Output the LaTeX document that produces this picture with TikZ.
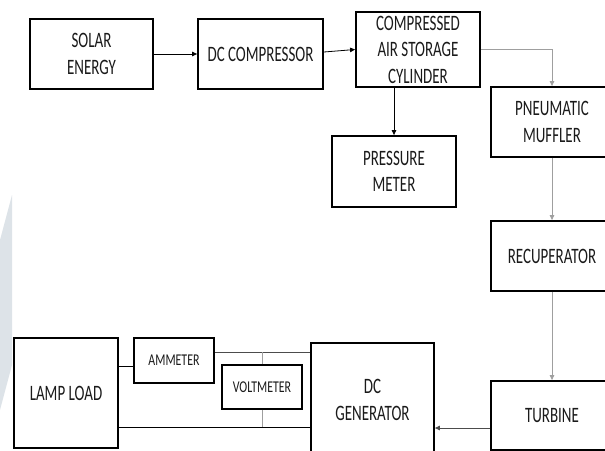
\documentclass[tikz,border=0pt]{standalone}
\usepackage{fontspec}
\setmainfont{Carlito}
\newfontfamily\lblfont[FakeStretch=0.68]{Carlito}
\newfontfamily\smlfont[FakeStretch=0.72]{Carlito}
\usetikzlibrary{arrows.meta}
\definecolor{wmark}{HTML}{DDE3E8}
\definecolor{txt}{HTML}{1A1A1A}
\begin{document}
\begin{tikzpicture}[x=1pt,y=-1pt,
  box/.style={draw=black, line width=1.8pt, align=center, inner sep=0pt, text=txt,
    font=\lblfont\fontsize{22}{26.5}\selectfont},
  smallbox/.style={box, font=\smlfont\fontsize{16.5}{19}\selectfont},
  tip/.style={-{Triangle[length=5pt,width=4.5pt]}},
  blk/.style={draw=black, line width=0.8pt},
  gry/.style={draw=gray!75, line width=0.8pt}]
\useasboundingbox (0,0) rectangle (605,450);
\clip (0,0) rectangle (605,450);
\fill[wmark] (0,240) -- (12,195) -- (12,365) -- (0,410) -- cycle;
% boxes
\node[box, minimum width=123pt, minimum height=70pt] (solar) at (91.5,54) {SOLAR\\ENERGY};
\node[box, minimum width=125pt, minimum height=70pt] (comp) at (260.5,54) {DC COMPRESSOR};
\node[box, minimum width=124pt, minimum height=75pt] (cyl) at (418,49.5) {COMPRESSED\\AIR STORAGE\\CYLINDER};
\node[box, minimum width=124pt, minimum height=71pt] (press) at (394,171.5) {PRESSURE\\METER};
\node[box, minimum width=122pt, minimum height=70pt] (muff) at (552,122) {PNEUMATIC\\MUFFLER};
\node[box, minimum width=122pt, minimum height=70pt] (recup) at (552,256) {RECUPERATOR};
\node[box, minimum width=122pt, minimum height=69pt] (turb) at (552,415.5) {TURBINE};
\node[box, minimum width=123pt, minimum height=114pt] (gen) at (372.5,400) {DC\\GENERATOR};
\node[box, minimum width=104pt, minimum height=110pt] (lamp) at (66,393) {LAMP LOAD};
\node[smallbox, minimum width=80pt, minimum height=45pt] (amm) at (174,360.5) {AMMETER};
\node[smallbox, minimum width=80pt, minimum height=44pt] (volt) at (262,387) {VOLTMETER};
% connectors
\draw[blk,tip] (solar.east) -- (comp.west);
\draw[blk,tip] ([yshift=2pt]comp.east) -- (cyl.west);
\draw[blk,tip] (cyl.south -| press.north) -- (press.north);
\draw[gry,tip] (cyl.east) -| (muff.north);
\draw[gry,tip] (muff.south) -- (recup.north);
\draw[gry,tip] (recup.south) -- (turb.north);
\draw[gry,draw=gray!60!black,tip] ([yshift=-12.5pt]turb.west) -- ([yshift=-12.5pt]turb.west -| gen.east);
% electrical
\coordinate (topr) at ([yshift=8.5pt]amm.east);
\coordinate (botl) at ([yshift=-34pt]lamp.east);
\draw[blk] ([yshift=-5.5pt]amm.west) -- ([yshift=-5.5pt]amm.west -| lamp.east);
\draw[gry,draw=gray!60!black] (topr) -- (topr -| gen.west);
\draw[blk] (botl) -- (botl -| gen.west);
\draw[gry] (volt.north) -- (volt.north |- topr);
\draw[gry] (volt.south) -- (volt.south |- botl);
\end{tikzpicture}
\end{document}
